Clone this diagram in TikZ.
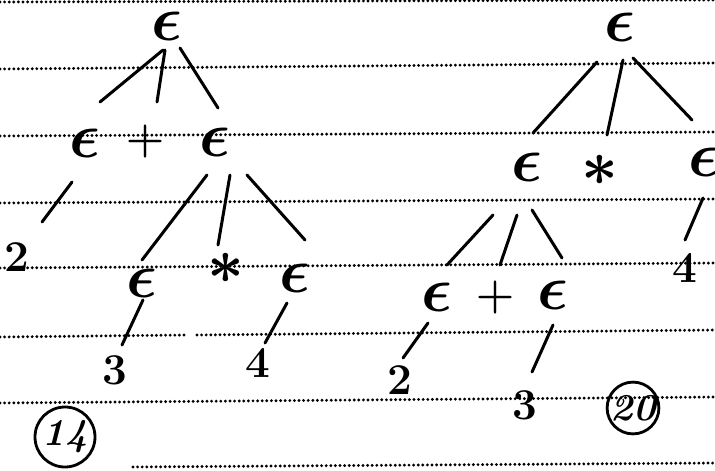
\RequirePackage{fix-cm}
\documentclass[tikz,border=0pt]{standalone}
\usepackage{amsmath}
\usepackage{tikz}
\usetikzlibrary{calc}

\begin{document}
\begin{tikzpicture}[x=0.5pt,y=-0.5pt,
    sym/.style={inner sep=0pt,font=\fontsize{32}{36}\selectfont\boldmath},
    num/.style={inner sep=0pt,font=\fontsize{22}{26}\selectfont\bfseries},
    op/.style={inner sep=0pt,font=\fontsize{22}{26}\selectfont\boldmath},
    edge/.style={line width=1.5pt,line cap=round},
    rule/.style={line width=1.6pt,line cap=round,dash pattern=on 0pt off 2.3pt},
    tag/.style={draw,circle,line width=1.4pt,inner sep=0pt,font=\fontsize{19}{22}\selectfont\bfseries\itshape}]
    \clip (0,0) rectangle (715,470);
    \foreach \ya/\yb in {2/0,69/63,136/132,203/199,268/263,403/397} \draw[rule] (0,\ya) -- (715,\yb);
    \draw[rule] (0,337) -- (188,335);
    \draw[rule] (197,335) -- (715,330);
    \draw[rule] (133,467) -- (715,463);

    \node[sym] (rootL) at (167,26) {$\epsilon$};
    \node[sym] (aL) at (85,143) {$\epsilon$};
    \node[op] (plusL) at (145,142) {$+$};
    \node[sym] (bL) at (215,142) {$\epsilon$};
    \node[num] (twoL) at (17,257) {2};
    \node[sym] (cL) at (142,283) {$\epsilon$};
    \node[sym] (starL) at (226,268) {$\ast$};
    \node[sym] (dL) at (295,278) {$\epsilon$};
    \node[num] (threeL) at (115,370) {3};
    \node[num] (fourL) at (258,363) {4};
    \node[tag,minimum size=30pt] (tagL) at (65,437) {14};

    \draw[edge] ($(rootL)+(-4,24)$) -- ($(aL)+(15,-41)$);
    \draw[edge] ($(rootL)+(-2,24)$) -- ($(plusL)+(12,-40)$);
    \draw[edge] ($(rootL)+(13,22)$) -- ($(bL)+(3,-34)$);
    \draw[edge] ($(aL)+(-13,39)$) -- ($(twoL)+(25,-35)$);
    \draw[edge] ($(bL)+(-8,33)$) -- ($(cL)+(0,-23)$);
    \draw[edge] ($(bL)+(15,33)$) -- ($(starL)+(-8,-23)$);
    \draw[edge] ($(bL)+(32,33)$) -- ($(dL)+(10,-38)$);
    \draw[edge] ($(cL)+(1,17)$) -- ($(threeL)+(7,-25)$);
    \draw[edge] ($(dL)+(-8,25)$) -- ($(fourL)+(7,-20)$);

    \node[sym] (rootR) at (620,27) {$\epsilon$};
    \node[sym] (aR) at (527,167) {$\epsilon$};
    \node[sym] (starR) at (600,170) {$\ast$};
    \node[sym] (bR) at (704,162) {$\epsilon$};
    \node[num] (fourR) at (685,268) {4};
    \node[sym] (cR) at (437,297) {$\epsilon$};
    \node[op] (plusR) at (495,297) {$+$};
    \node[sym] (dR) at (553,295) {$\epsilon$};
    \node[num] (twoR) at (400,380) {2};
    \node[num] (threeR) at (525,405) {3};
    \node[tag,minimum size=25pt] (tagR) at (633,408) {20};

    \draw[edge] ($(rootR)+(-23,35)$) -- ($(aR)+(6,-34)$);
    \draw[edge] ($(rootR)+(3,33)$) -- ($(starR)+(7,-35)$);
    \draw[edge] ($(rootR)+(13,31)$) -- ($(bR)+(-12,-42)$);
    \draw[edge] ($(bR)+(-1,36)$) -- ($(fourR)+(0,-28)$);
    \draw[edge] ($(aR)+(-34,48)$) -- ($(cR)+(10,-32)$);
    \draw[edge] ($(aR)+(-10,48)$) -- ($(plusR)+(5,-32)$);
    \draw[edge] ($(aR)+(5,43)$) -- ($(dR)+(9,-37)$);
    \draw[edge] ($(cR)+(-9,26)$) -- ($(twoR)+(3,-22)$);
    \draw[edge] ($(dR)+(0,30)$) -- ($(threeR)+(7,-33)$);
  \end{tikzpicture}
\end{document}
